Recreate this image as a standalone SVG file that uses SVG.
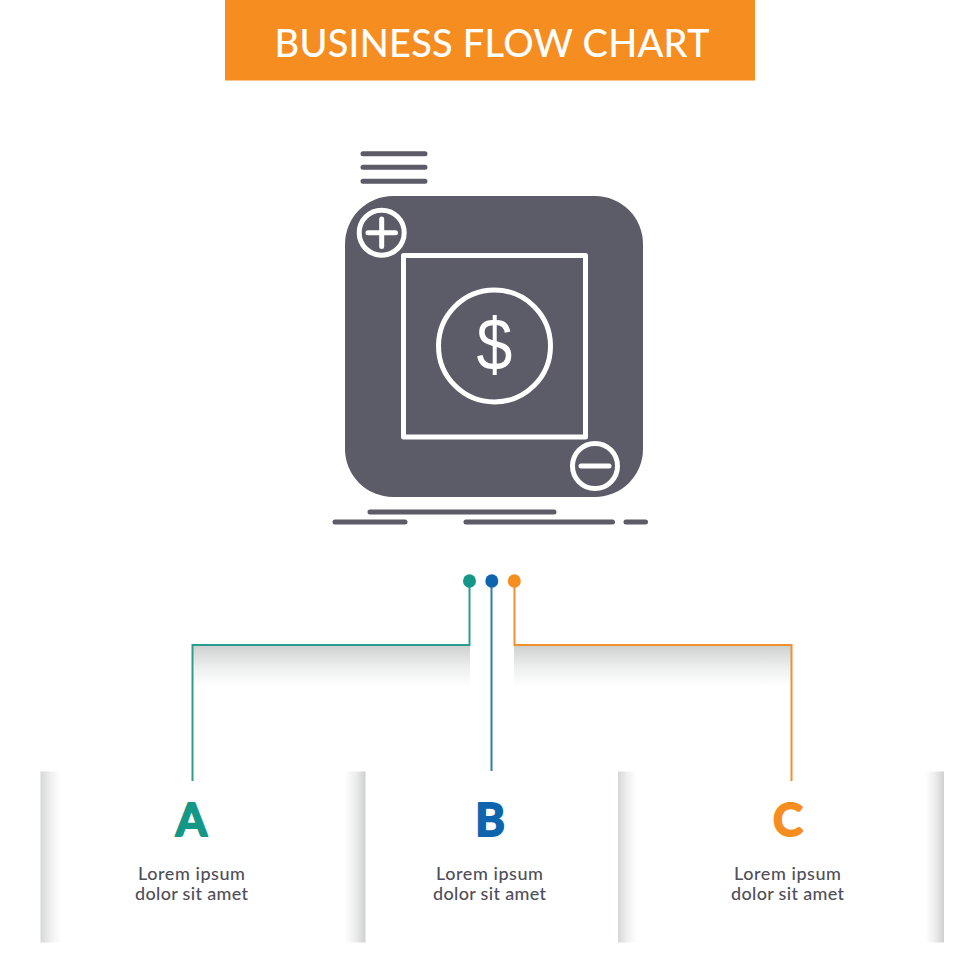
<svg xmlns="http://www.w3.org/2000/svg" width="980" height="980" viewBox="0 0 980 980">
<style>
.t{font-family:"Lato","Open Sans","Liberation Sans",sans-serif}
.title{font-size:38px;font-weight:500;fill:#fff;text-anchor:middle}
.letter{font-family:"Lato","Inter",sans-serif;font-size:45px;font-weight:700;text-anchor:middle;stroke-width:2;stroke-linejoin:round}
.body{font-size:18px;font-weight:500;fill:#4f4f59;text-anchor:middle}
.ink{stroke:#5c5b68;stroke-width:5;stroke-linecap:round;fill:none}
.wl{stroke:#fff;stroke-width:5;fill:none}
.wr{stroke:#fff;stroke-width:5;stroke-linecap:round;fill:none}
.c{fill:none;stroke-width:2}
</style>
<defs>
<linearGradient id="d" x1="0" y1="0" x2="0" y2="1"><stop offset="0" stop-color="#cfd1d1"/><stop offset=".5" stop-color="#eceded"/><stop offset="1" stop-color="#fff"/></linearGradient>
<linearGradient id="l" x1="0" y1="0" x2="1" y2="0"><stop offset="0" stop-color="#d6d7d7"/><stop offset=".5" stop-color="#f0f0f0"/><stop offset="1" stop-color="#fff"/></linearGradient>
<linearGradient id="r" x1="1" y1="0" x2="0" y2="0"><stop offset="0" stop-color="#cfd0d0"/><stop offset=".5" stop-color="#eeeeee"/><stop offset="1" stop-color="#fff"/></linearGradient>
</defs>
<rect width="980" height="980" fill="#fff"/>
<g id="header"><rect x="225" y="0" width="530" height="80.500" fill="#f68d20"/><text class="t title" x="492" y="57" textLength="435">BUSINESS FLOW CHART</text></g>
<g id="icon">
<path class="ink" d="M363 153.700H425M363 167.300H425M363 181.300H425M370 512H554M335 522H405M466 522H612.500M626 522H645.500"/>
<rect x="345" y="196" width="298" height="301" rx="48" fill="#5c5b68"/>
<rect class="wl" x="403.500" y="255.500" width="182" height="181.500" stroke-linejoin="round"/>
<circle class="wl" cx="494.500" cy="346" r="56"/>
<text transform="translate(494.500 370) scale(.92 1.05)" font-family="Liberation Sans,sans-serif" font-size="70" fill="#fff" text-anchor="middle">$</text>
<circle cx="381.700" cy="232.700" r="22.500" fill="#5c5b68" stroke="#fff" stroke-width="5"/>
<path class="wr" d="M368 232.700H395.500M381.700 219V246.500"/>
<circle cx="595" cy="466" r="22.500" fill="#5c5b68" stroke="#fff" stroke-width="5"/>
<path class="wr" d="M581 466H609"/>
</g>
<g id="shades">
<rect x="193" y="646" width="277" height="40" fill="url(#d)"/>
<rect x="514" y="646" width="277" height="40" fill="url(#d)"/>
</g>
<g id="connectors">
<path class="c" stroke="#2a9d8f" d="M192.500 781V645H469.500V581"/>
<path class="c" stroke="#2f7fa8" d="M491.500 771V581"/>
<path class="c" stroke="#f28f2f" d="M791.500 781V645H514.500V581"/>
</g>
<g id="dots">
<ellipse cx="469.500" cy="581" rx="6.500" ry="6.800" fill="#159788"/>
<ellipse cx="491.800" cy="581" rx="6.500" ry="6.800" fill="#0f65ad"/>
<ellipse cx="514.300" cy="581" rx="6.500" ry="6.800" fill="#f68d20"/>
</g>
<g id="node-a">
<rect x="40.500" y="771.500" width="21" height="171" fill="url(#l)"/><rect x="344.500" y="771.500" width="21" height="171" fill="url(#r)"/>
<text class="letter" x="191.500" y="836" fill="#159788" stroke="#159788">A</text>
<text class="t body" x="191.500" y="880" textLength="107">Lorem ipsum</text>
<text class="t body" x="191.500" y="900" textLength="113">dolor sit amet</text>
</g>
<g id="node-b">
<text class="letter" x="490" y="836" fill="#0f65ad" stroke="#0f65ad">B</text>
<text class="t body" x="489.500" y="880" textLength="107">Lorem ipsum</text>
<text class="t body" x="489.500" y="900" textLength="113">dolor sit amet</text>
</g>
<g id="node-c">
<rect x="618" y="771.500" width="19" height="171" fill="url(#l)"/><rect x="925" y="771.500" width="19" height="171" fill="url(#r)"/>
<text class="letter" x="788" y="836" fill="#f68d20" stroke="#f68d20">C</text>
<text class="t body" x="787.500" y="880" textLength="107">Lorem ipsum</text>
<text class="t body" x="787.500" y="900" textLength="113">dolor sit amet</text>
</g>
</svg>
